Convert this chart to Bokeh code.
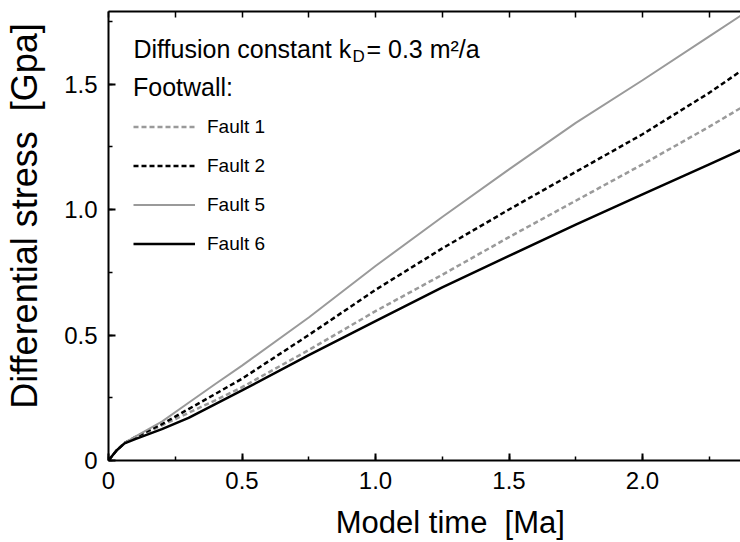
from bokeh.plotting import figure
from bokeh.models import (Range1d, LinearAxis, SingleIntervalTicker, Legend, LegendItem,
                          Label, PrintfTickFormatter, CustomJSTickFormatter)
from bokeh.embed import file_html
from bokeh.resources import INLINE

# Model time [Ma]
time_ma = [0, 0.03, 0.06, 0.1, 0.2, 0.3, 0.4, 0.5, 0.75, 1.0, 1.25, 1.5, 1.75, 2.0, 2.25, 2.4]
# Differential stress [Gpa]
fault1 = [0, 0.04, 0.07, 0.09, 0.14, 0.19, 0.24, 0.292, 0.44, 0.595, 0.74, 0.89, 1.035, 1.18, 1.33, 1.425]
fault2 = [0, 0.04, 0.07, 0.093, 0.145, 0.205, 0.265, 0.326, 0.50, 0.68, 0.845, 1.0, 1.15, 1.30, 1.465, 1.575]
fault5 = [0, 0.04, 0.07, 0.095, 0.155, 0.23, 0.305, 0.378, 0.57, 0.775, 0.97, 1.16, 1.345, 1.515, 1.69, 1.795]
fault6 = [0, 0.04, 0.068, 0.085, 0.125, 0.17, 0.225, 0.279, 0.42, 0.555, 0.69, 0.815, 0.94, 1.06, 1.18, 1.252]

NB = "\u00a0"
x_title = NB * 6 + "Model time" + NB + " [Ma]"
y_title = NB * 4 + "Differential stress" + NB + " [Gpa]"

FONT = "Liberation Sans"
GRAY = "#9a9a9a"

p = figure(width=740, height=542, x_range=Range1d(0, 2.367), y_range=Range1d(0, 1.789),
           output_backend="svg", toolbar_location=None,
           min_border_left=108, min_border_right=0, min_border_top=11, min_border_bottom=82)
p.xgrid.visible = False
p.ygrid.visible = False
p.outline_line_color = None
p.background_fill_color = "white"
p.border_fill_color = "white"

for ax, ttl in ((p.xaxis[0], x_title), (p.yaxis[0], y_title)):
    ax.ticker = SingleIntervalTicker(interval=0.5, num_minor_ticks=2)
    ax.formatter = PrintfTickFormatter(format="%.1f")
    ax.major_label_overrides = {0: "0"}
    ax.axis_line_width = 2
    ax.axis_line_color = "black"
    ax.major_tick_line_width = 2
    ax.minor_tick_line_width = 1.5
    ax.major_tick_in = 7
    ax.major_tick_out = 0
    ax.minor_tick_in = 4
    ax.minor_tick_out = 0
    ax.major_label_text_font = FONT
    ax.major_label_text_font_size = "24px"
    ax.major_label_text_color = "black"
    ax.major_label_standoff = 11
    ax.axis_label = ttl
    ax.axis_label_text_font = FONT
    ax.axis_label_text_font_style = "normal"
    ax.axis_label_text_color = "black"
p.xaxis[0].axis_label_text_font_size = "31px"
p.xaxis[0].axis_label_standoff = 13
p.yaxis[0].axis_label_text_font_size = "36px"
p.yaxis[0].axis_label_standoff = 16

top = LinearAxis(ticker=SingleIntervalTicker(interval=0.25, num_minor_ticks=0),
                 formatter=CustomJSTickFormatter(code="return ''"),
                 major_label_standoff=0,
                 axis_line_width=2, major_tick_line_width=1.5,
                 major_tick_in=6, major_tick_out=0, minor_tick_in=0, minor_tick_out=0)
p.add_layout(top, "above")

r1 = p.line(time_ma, fault1, line_color=GRAY, line_width=2.5, line_dash="5 3")
r2 = p.line(time_ma, fault2, line_color="black", line_width=2.5, line_dash="5 3")
r5 = p.line(time_ma, fault5, line_color=GRAY, line_width=2)
r6 = p.line(time_ma, fault6, line_color="black", line_width=2.5)

legend = Legend(items=[LegendItem(label="Fault 1", renderers=[r1]),
                       LegendItem(label="Fault 2", renderers=[r2]),
                       LegendItem(label="Fault 5", renderers=[r5]),
                       LegendItem(label="Fault 6", renderers=[r6])],
                location=(25, 197), title="Footwall:",
                title_text_font=FONT, title_text_font_size="25px", title_text_font_style="normal",
                title_text_color="black", title_standoff=5,
                label_text_font=FONT, label_text_font_size="19px", label_text_color="black",
                glyph_width=62, glyph_height=39, label_height=39, label_standoff=12,
                spacing=0, padding=0, margin=0, border_line_color=None, background_fill_alpha=0)
p.add_layout(legend)

lab_kw = dict(text_font=FONT, text_color="black", text_baseline="middle", text_align="left")
p.add_layout(Label(x=0.0936, y=1.641, text="Diffusion constant k", text_font_size="25px", **lab_kw))
p.add_layout(Label(x=0.914, y=1.609, text="D", text_font_size="17px", **lab_kw))
p.add_layout(Label(x=0.966, y=1.641, text="= 0.3 m\u00b2/a", text_font_size="25px", **lab_kw))

open("out.html", "w").write(file_html(p, INLINE))
